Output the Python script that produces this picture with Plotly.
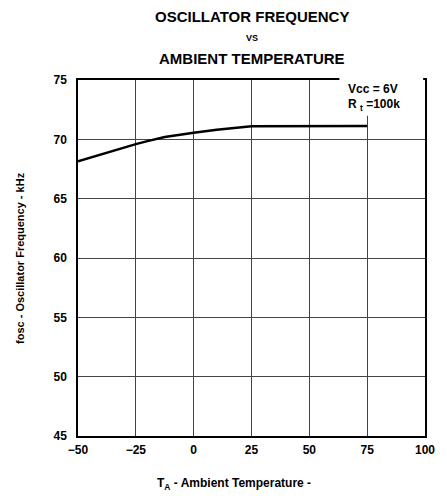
import plotly.graph_objects as go

temp = [-50, -40, -30, -25, -20, -12.5, 0, 10, 25, 50, 75]
freq = [68.15, 68.75, 69.3, 69.6, 69.85, 70.2, 70.55, 70.8, 71.1, 71.12, 71.12]
x_ticks = [-50, -25, 0, 25, 50, 75, 100]
y_ticks = [45, 50, 55, 60, 65, 70, 75]

FONT = "Liberation Sans, Arial, sans-serif"

fig = go.Figure()
fig.add_trace(go.Scatter(x=temp, y=freq, mode="lines",
                         line=dict(color="black", width=2.5), showlegend=False))

fig.update_layout(
    width=439, height=490,
    margin=dict(l=70, r=12, t=72, b=62),
    paper_bgcolor="white", plot_bgcolor="white",
    font=dict(family=FONT, color="black", size=11),
    xaxis=dict(range=[-50, 100], tickvals=x_ticks, showgrid=True,
               gridcolor="#444", gridwidth=1, zeroline=False,
               showline=True, linecolor="black", linewidth=1.5, mirror=True,
               ticks="", ticklabelstandoff=2,
               tickfont=dict(size=12, family=FONT, weight="bold")),
    yaxis=dict(range=[45, 75], tickvals=y_ticks, showgrid=True,
               gridcolor="#444", gridwidth=1, zeroline=False,
               showline=True, linecolor="black", linewidth=1.5, mirror=True,
               ticks="", ticklabelstandoff=7,
               tickfont=dict(size=12, family=FONT, weight="bold")),
)

# white box for conditions
fig.add_shape(type="rect", xref="x", yref="paper", x0=63.0, x1=99.2, y0=0.8995, y1=1.01,
              fillcolor="white", line=dict(width=0), layer="above")
fig.add_annotation(x=65.9, y=1, xref="x", yref="paper", yshift=-9, xanchor="left",
                   yanchor="middle", showarrow=False,
                   text="<b>Vcc = 6V</b>", font=dict(size=12, family=FONT))
fig.add_annotation(x=65.9, y=1, xref="x", yref="paper", yshift=-25, xanchor="left",
                   yanchor="middle", showarrow=False,
                   text="<b>R <sub>t</sub> =100k</b>", font=dict(size=12, family=FONT))

# titles
fig.add_annotation(x=0.5, y=1, xref="paper", yref="paper", yshift=64,
                   yanchor="middle", showarrow=False,
                   text="<b>OSCILLATOR FREQUENCY</b>", font=dict(size=15, family=FONT))
fig.add_annotation(x=0.5, y=1, xref="paper", yref="paper", yshift=42,
                   yanchor="middle", showarrow=False,
                   text="<b>VS</b>", font=dict(size=9, family=FONT))
fig.add_annotation(x=0.5, y=1, xref="paper", yref="paper", yshift=22,
                   yanchor="middle", showarrow=False,
                   text="<b>AMBIENT TEMPERATURE</b>", font=dict(size=15, family=FONT))

fig.add_annotation(x=0.45, y=0, xref="paper", yref="paper", yshift=-48,
                   yanchor="middle", showarrow=False,
                   text="<b>T<sub>A</sub> - Ambient Temperature -</b>",
                   font=dict(size=12, family=FONT))
fig.add_annotation(x=0, y=0.5, xref="paper", yref="paper", xshift=-58,
                   xanchor="center", yanchor="middle", textangle=-90, showarrow=False,
                   text="<b>fosc - Oscillator Frequency - kHz</b>",
                   font=dict(size=11, family=FONT))

fig.write_html("out.html")
